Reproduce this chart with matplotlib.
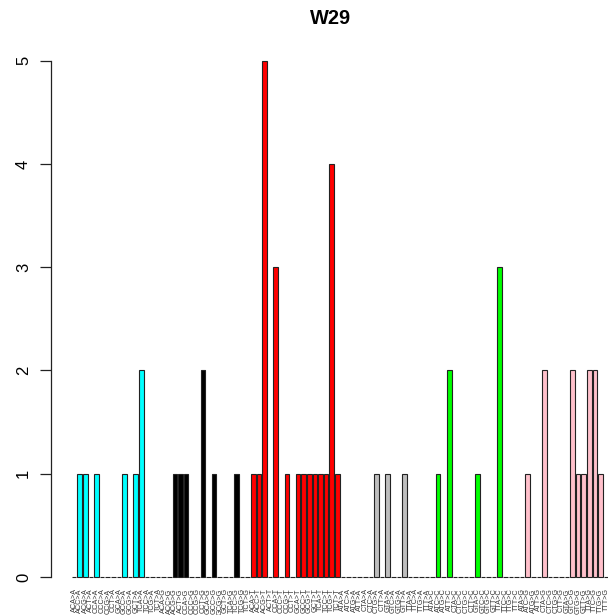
import matplotlib
matplotlib.use("Agg")
import matplotlib.pyplot as plt
import matplotlib.transforms as mtransforms

# ---- data ----
title = "W29"
mutation_types = ["C>A", "C>G", "C>T", "T>A", "T>C", "T>G"]
type_colors = ["#00FFFF", "#000000", "#FF0000", "#BEBEBE", "#00FF00", "#FFC0CB"]
bases = ["A", "C", "G", "T"]

counts_CA = [0, 1, 1, 0, 1, 0, 0, 0, 0, 1, 0, 1, 2, 0, 0, 0]
counts_CG = [0, 0, 1, 1, 1, 0, 0, 2, 0, 1, 0, 0, 0, 1, 0, 0]
counts_CT = [1, 1, 5, 0, 3, 0, 1, 0, 1, 1, 1, 1, 1, 1, 4, 1]
counts_TA = [0, 0, 0, 0, 0, 0, 1, 0, 1, 0, 0, 1, 0, 0, 0, 0]
counts_TC = [0, 1, 0, 2, 0, 0, 0, 0, 1, 0, 0, 0, 3, 0, 0, 0]
counts_TG = [0, 1, 0, 0, 2, 0, 0, 0, 0, 2, 1, 1, 2, 2, 1, 0]
y_ticks = [0, 1, 2, 3, 4, 5]

groups = [counts_CA, counts_CG, counts_CT, counts_TA, counts_TC, counts_TG]

labels, values, colors = [], [], []
for mt, col, grp in zip(mutation_types, type_colors, groups):
    ref, alt = mt.split(">")
    k = 0
    for a in bases:
        for b in bases:
            labels.append(f"{a}{ref}{b}>{alt}")
            values.append(grp[k])
            colors.append(col)
            k += 1

plt.rcParams["font.family"] = ["Liberation Sans", "DejaVu Sans"]

W, H = 608, 615
fig = plt.figure(figsize=(W / 100, H / 100), dpi=100)
left_px, right_px, top_px, bot_px = 50.7, 608.0, 40.05, 597.65
ax = fig.add_axes([left_px / W, 1 - bot_px / H, (right_px - left_px) / W, (bot_px - top_px) / H])

xpos = list(range(len(values)))
ax.bar(xpos, values, width=1 / 1.2, color=colors, edgecolor="#222222", linewidth=0.8)

ax.set_xlim(-4.17, 95.35)
ax.set_ylim(-0.2, 5.2)

for s in ["top", "right", "bottom"]:
    ax.spines[s].set_visible(False)
ax.spines["left"].set_bounds(0, 5)
ax.spines["left"].set_color("#222222")
ax.spines["left"].set_linewidth(0.9)
ax.set_yticks(y_ticks)
ax.set_yticklabels([str(t) for t in y_ticks], rotation=90, va="center", fontsize=12)
ax.tick_params(axis="y", length=7.7, width=0.9, pad=6.5, color="#222222")
ax.set_xticks([])

for x, lab in zip(xpos, labels):
    ax.text(x, -0.11, lab, rotation=90, ha="center", va="top", fontsize=5.2,
            color="#333333", clip_on=False)

fig.text(331 / W, 1 - 19 / H, title, ha="center", va="center", fontsize=14.4,
         fontweight="bold")

fig.savefig("out.png", dpi=100)
